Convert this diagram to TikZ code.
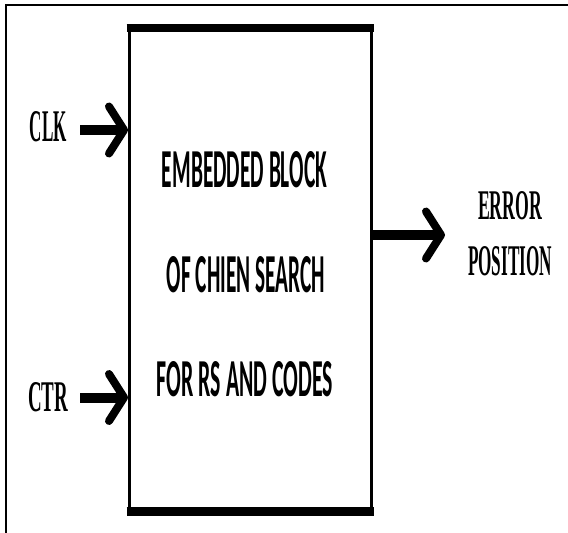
\documentclass[tikz,border=0pt]{standalone}
\usepackage{fontspec}
\usepackage{graphicx}
\setmainfont{Liberation Serif}
\newfontfamily\blockfont{Carlito}
\usetikzlibrary{arrows.meta}
\tikzset{
  lbl/.style={inner sep=0pt, font=\rmfamily\bfseries},
  blktxt/.style={inner sep=0pt, font=\blockfont\bfseries},
  bigarrow/.style={line width=10pt, -{Straight Barb[length=15pt,width=47pt,line width=8pt,round]}},
  blockbox/.style={draw, line width=3pt, minimum width=241.5pt, minimum height=481pt, inner sep=0pt},
}
\begin{document}
\begin{tikzpicture}[x=1pt,y=-1pt]
\useasboundingbox (0,0) rectangle (568,533);
% outer frame
\draw[line width=2pt] (6,533) -- (6,5) -- (568,5);
% block
\node[blockbox] (blk) at (250.25,269.5) {};
\draw[line width=8pt] ([xshift=-1.5pt]blk.north west) -- ([xshift=1.5pt]blk.north east);
\draw[line width=9pt] ([xshift=-1.5pt]blk.south west) -- ([xshift=1.5pt]blk.south east);
% block text
\node[blktxt] (t1) at (244.5,170) {\resizebox{165pt}{36pt}{EMBEDDED BLOCK}};
\node[blktxt] (t2) at (246,275) {\resizebox{158pt}{36pt}{OF CHIEN SEARCH}};
\node[blktxt] (t3) at (245,379.5) {\resizebox{176pt}{35pt}{FOR RS AND CODES}};
% labels
\node[lbl] (clk) at (48.5,127) {\resizebox{37pt}{30pt}{CLK}};
\node[lbl] (ctr) at (48,397.5) {\resizebox{40pt}{29pt}{CTR}};
\node[lbl] (err) at (510,206) {\resizebox{64pt}{28pt}{ERROR}};
\node[lbl] (pos) at (510,261.5) {\resizebox{84pt}{29pt}{POSITION}};
\coordinate (outtip) at (445,235);
% arrows
\draw[bigarrow] ([xshift=13pt,yshift=-3pt]clk.east) -- ([yshift=-3pt]clk.east -| blk.west);
\draw[bigarrow] ([xshift=12pt]ctr.east) -- (ctr.east -| blk.west);
\draw[bigarrow] (outtip -| blk.east) -- (outtip);
\end{tikzpicture}
\end{document}
